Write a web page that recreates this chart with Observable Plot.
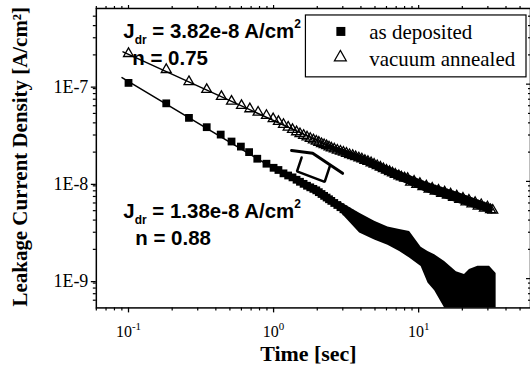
<!DOCTYPE html>
<html>
<head>
<meta charset="utf-8">
<script src="https://cdn.jsdelivr.net/npm/d3@7"></script>
<script src="https://cdn.jsdelivr.net/npm/@observablehq/plot@0.6"></script>
<style>
  html, body { margin: 0; padding: 0; background: #fff; overflow: hidden; width: 530px; height: 367px; }
  #chart { position: relative; width: 530px; height: 367px; overflow: hidden; }
</style>
</head>
<body>
<div id="chart"></div>
<script>
// ---------------- data ----------------
const seriesNames = ["as deposited", "vacuum annealed"];

// vacuum annealed (open triangles)
const annealedTime = [0.1, 0.182, 0.261, 0.346, 0.437, 0.513, 0.601, 0.686, 0.782, 0.893, 0.993,
  1.08, 1.17, 1.26, 1.35, 1.44, 1.52, 1.61, 1.70, 1.79, 1.88, 1.97, 2.05, 2.14, 2.23, 2.32, 2.41, 2.50,
  2.62, 2.75, 2.89, 3.03, 3.18, 3.34, 3.51, 3.68, 3.87, 4.06, 4.26, 4.47, 4.70, 4.93,
  5.18, 5.44, 5.71, 6.00, 6.30, 6.60, 6.90, 7.30, 7.60, 8.00, 8.40, 8.80, 9.30, 9.70,
  10.2, 10.7, 11.3, 11.8, 12.4, 13.0, 13.7, 14.4, 15.1, 15.8, 16.6, 17.4, 18.3,
  19.2, 20.2, 21.2, 22.2, 23.3, 24.5, 25.7, 27.0, 28.4, 29.8, 31.3, 32.4];
const annealedJ = [2.06e-7, 1.41e-7, 1.06e-7, 8.79e-8, 7.45e-8, 6.66e-8, 6.02e-8, 5.57e-8, 5.14e-8, 4.76e-8, 4.40e-8,
  4.12e-8, 3.85e-8, 3.61e-8, 3.41e-8, 3.23e-8, 3.09e-8, 2.97e-8, 2.86e-8, 2.76e-8, 2.67e-8, 2.59e-8, 2.52e-8, 2.44e-8, 2.38e-8, 2.32e-8, 2.26e-8, 2.20e-8,
  2.15e-8, 2.09e-8, 2.04e-8, 1.99e-8, 1.94e-8, 1.88e-8, 1.84e-8, 1.79e-8, 1.74e-8, 1.70e-8, 1.64e-8, 1.60e-8, 1.55e-8, 1.50e-8,
  1.45e-8, 1.40e-8, 1.35e-8, 1.30e-8, 1.26e-8, 1.22e-8, 1.18e-8, 1.14e-8, 1.11e-8, 1.08e-8, 1.07e-8, 0.98e-8, 1.0e-8, 9.3e-9,
  9.5e-9, 8.8e-9, 8.95e-9, 8.3e-9, 8.5e-9, 7.9e-9, 8.1e-9, 7.5e-9, 7.75e-9, 7.2e-9, 7.4e-9, 6.85e-9, 7.05e-9,
  6.5e-9, 6.7e-9, 6.15e-9, 6.4e-9, 5.85e-9, 6.05e-9, 5.55e-9, 5.75e-9, 5.3e-9, 5.45e-9, 5.1e-9, 5.05e-9];
// vacuum annealed - where the markers merge into a solid band: band edges
const annealedBandTime = [2.3, 3.0, 4.36, 6.64, 11.3, 19.1, 32.4];
const annealedBandHigh = [2.42e-8, 2.15e-8, 1.78e-8, 1.36e-8, 9.8e-9, 7.6e-9, 5.7e-9];
const annealedBandLow  = [2.22e-8, 1.85e-8, 1.45e-8, 1.08e-8, 7.7e-9, 5.9e-9, 4.6e-9];

// as deposited (filled squares) - resolved markers
const depositedTime = [0.1, 0.182, 0.261, 0.346, 0.432, 0.513, 0.595, 0.678, 0.772, 0.893, 1.0,
  1.08, 1.17, 1.26, 1.35, 1.44, 1.52, 1.61, 1.70, 1.79, 1.88, 1.97, 2.05, 2.14, 2.23, 2.32, 2.41, 2.50,
  2.62, 2.75, 2.89, 3.03, 3.18, 3.34, 3.51, 3.68, 3.87, 4.06];
const depositedJ = [1.03e-7, 6.35e-8, 4.50e-8, 3.61e-8, 3.03e-8, 2.57e-8, 2.28e-8, 2.00e-8, 1.71e-8, 1.52e-8, 1.38e-8,
  1.31e-8, 1.21e-8, 1.15e-8, 1.10e-8, 1.04e-8, 9.91e-9, 9.44e-9, 9.02e-9, 8.69e-9, 8.38e-9, 8.09e-9, 7.75e-9, 7.42e-9, 7.1e-9, 6.82e-9, 6.55e-9, 6.3e-9,
  6.0e-9, 5.72e-9, 5.43e-9, 5.17e-9, 4.92e-9, 4.68e-9, 4.44e-9, 4.22e-9, 4.0e-9, 3.82e-9];

// as deposited - noisy tail, read as the upper / lower edge of the scatter band
const tailTime = [2.9, 3.92, 4.97, 6.14, 7.39, 8.66, 10.4, 11.6, 12.9, 15.1, 18.2, 20.7, 22.4, 25.6, 30.8, 34.2];
const tailHigh = [6.1e-9, 4.7e-9, 3.9e-9, 3.4e-9, 3.2e-9, 3.05e-9, 2.1e-9, 1.9e-9, 1.76e-9, 1.5e-9, 1.18e-9, 1.1e-9, 1.24e-9, 1.34e-9, 1.34e-9, 1.13e-9];
const tailLow  = [4.8e-9, 2.95e-9, 2.5e-9, 2.2e-9, 1.9e-9, 1.63e-9, 1.33e-9, 9.0e-10, 7.5e-10, 5e-10, 5e-10, 5e-10, 5e-10, 5e-10, 5e-10, 5e-10];

// fitted lines J = Jdr * t^-n (end points as drawn)
const fitAnnealedTime = [0.0917, 3.0];
const fitAnnealedJ = [2.15e-7, 2.0e-8];
const fitDepositedTime = [0.0902, 3.0];
const fitDepositedJ = [1.17e-7, 5.1e-9];

// odd hand-drawn shape in the middle of the plot
const roofTime = [1.33, 1.86, 2.99];
const roofJ = [2.08e-8, 1.95e-8, 1.21e-8];
const boxTime = [1.56, 1.45, 2.25, 2.44];
const boxJ = [1.76e-8, 1.27e-8, 9.89e-9, 1.43e-8];

// annotations
const annTexts = ["J_{dr} = 3.82e-8 A/cm^{2}", "n = 0.75", "J_{dr} = 1.38e-8 A/cm^{2}", "n = 0.88"];
const annTime = [0.0921, 0.1062, 0.0921, 0.1114];
const annJ = [2.95e-7, 1.56e-7, 4.2e-9, 2.22e-9];

// axes
const xMajor = [0.1, 1, 10];
const xTickLabels = ["10^{-1}", "10^{0}", "10^{1}"];
const xMinor = [0.06, 0.07, 0.08, 0.09, 0.2, 0.3, 0.4, 0.5, 0.6, 0.7, 0.8, 0.9,
  2, 3, 4, 5, 6, 7, 8, 9, 20, 30, 40, 50];
const yMajor = [1e-9, 1e-8, 1e-7];
const yTickLabels = ["1E-9", "1E-8", "1E-7"];
const yMinor = [6e-10, 7e-10, 8e-10, 9e-10, 2e-9, 3e-9, 4e-9, 5e-9, 6e-9, 7e-9, 8e-9, 9e-9,
  2e-8, 3e-8, 4e-8, 5e-8, 6e-8, 7e-8, 8e-8, 9e-8, 2e-7, 3e-7, 4e-7, 5e-7];
const xTitle = "Time [sec]";
const yTitle = "Leakage Current Density [A/cm\u00B2]";

// ---------------- chart ----------------
const SERIF = "'Liberation Serif', 'Times New Roman', serif";
const SANS = "'Liberation Sans', Arial, sans-serif";
const blank = () => "";

const plot = Plot.plot({
  width: 531,
  height: 367,
  marginLeft: 96,
  marginRight: 0,
  marginTop: 8,
  marginBottom: 59,
  style: { background: "white", fontFamily: SERIF, color: "black", overflow: "visible" },
  x: { type: "log", domain: [0.06, 59] },
  y: { type: "log", domain: [5e-10, 6e-7] },
  marks: [
    Plot.line(fitDepositedJ, { x: fitDepositedTime, y: fitDepositedJ, stroke: "black", strokeWidth: 1.5 }),
    Plot.line(fitAnnealedJ, { x: fitAnnealedTime, y: fitAnnealedJ, stroke: "black", strokeWidth: 1.5 }),
    Plot.areaY(tailTime, { x: tailTime, y1: tailLow, y2: tailHigh, fill: "black" }),
    Plot.dot(depositedJ, { x: depositedTime, y: depositedJ, symbol: "square", r: 4.4, fill: "black", stroke: "none" }),
    Plot.areaY(annealedBandTime, { x: annealedBandTime, y1: annealedBandLow, y2: annealedBandHigh, fill: "black" }),
    Plot.dot(annealedJ, { x: annealedTime, y: annealedJ, symbol: "triangle", r: 3.7, fill: "none", stroke: "black", strokeWidth: 1.3 }),
    Plot.line(roofJ, { x: roofTime, y: roofJ, stroke: "black", strokeWidth: 3, strokeLinejoin: "miter" }),
    Plot.line(boxJ, { x: boxTime, y: boxJ, stroke: "black", strokeWidth: 2.5, strokeLinejoin: "miter" }),
    Plot.text(annTexts, { x: annTime, y: annJ, text: annTexts, textAnchor: "start", lineAnchor: "bottom",
      fontFamily: SANS, fontWeight: "bold", fontSize: 20.5, fill: "black" }),
    Plot.frame({ stroke: "black", strokeWidth: 1.5 }),
    Plot.axisX({ anchor: "bottom", ticks: xMajor, tickSize: 5, tickPadding: 13, fontSize: 16,
      tickFormat: (d, i) => xTickLabels[xMajor.indexOf(d)], label: null, strokeWidth: 1.3 }),
    Plot.axisX({ anchor: "bottom", ticks: xMinor, tickSize: 3, tickFormat: blank, label: null, strokeWidth: 1.2 }),
    Plot.axisX({ anchor: "top", ticks: xMajor, tickSize: 4, tickFormat: blank, label: null, strokeWidth: 1.2 }),
    Plot.axisX({ anchor: "top", ticks: xMinor, tickSize: 3, tickFormat: blank, label: null, strokeWidth: 1.2 }),
    Plot.axisY({ anchor: "left", ticks: yMajor, tickSize: 5, tickPadding: 3, fontSize: 18, dy: 3,
      tickFormat: d => yTickLabels[yMajor.indexOf(d)], label: null, strokeWidth: 1.3 }),
    Plot.axisY({ anchor: "left", ticks: yMinor, tickSize: 3, tickFormat: blank, label: null, strokeWidth: 1.2 }),
    Plot.axisY({ anchor: "right", ticks: yMajor, tickSize: -5, tickFormat: blank, label: null, strokeWidth: 1.2 }),
    Plot.axisY({ anchor: "right", ticks: yMinor, tickSize: -3, tickFormat: blank, label: null, strokeWidth: 1.2 })
  ]
});

document.getElementById("chart").appendChild(plot);

// rich text: _{sub} and ^{sup}
const SVGNS = "http://www.w3.org/2000/svg";
function richify(el, o) {
  const s = el.textContent;
  if (!/[_^]\{/.test(s)) return;
  const parts = s.split(/([_^]\{[^}]*\})/).filter(p => p !== "");
  while (el.firstChild) el.removeChild(el.firstChild);
  let offset = 0;
  for (const p of parts) {
    const ts = document.createElementNS(SVGNS, "tspan");
    let target = 0, txt = p;
    if (p.startsWith("_{")) { target = o.subDy; txt = p.slice(2, -1); ts.setAttribute("font-size", o.subSize); }
    else if (p.startsWith("^{")) { target = -o.supDy; txt = p.slice(2, -1); ts.setAttribute("font-size", o.supSize); }
    ts.setAttribute("dy", target - offset);
    offset = target;
    ts.textContent = txt;
    el.appendChild(ts);
  }
}
plot.querySelectorAll("text").forEach(el => {
  const s = el.textContent;
  if (s.startsWith("10^")) richify(el, { supDy: 7, supSize: 11 });
  else richify(el, { subDy: 6, subSize: 12, supDy: 10, supSize: 12 });
});

// titles and legend
const svg = d3.select(plot);
svg.append("text")
  .attr("x", 309).attr("y", 362)
  .attr("text-anchor", "middle")
  .style("font-family", SERIF).style("font-weight", "bold").style("font-size", "22px")
  .text(xTitle);
svg.append("text")
  .attr("transform", "translate(27,157) rotate(-90)")
  .attr("text-anchor", "middle")
  .style("font-family", SERIF).style("font-weight", "bold").style("font-size", "21px")
  .text(yTitle);

const lg = svg.append("g").attr("text-anchor", "start");
lg.append("rect").attr("x", 306).attr("y", 15).attr("width", 221).attr("height", 62)
  .attr("fill", "white").attr("stroke", "black").attr("stroke-width", 1.2);
lg.append("rect").attr("x", 337).attr("y", 27).attr("width", 9).attr("height", 9).attr("fill", "black");
lg.append("path").attr("d", "M341,50.5L347,61L335,61Z").attr("fill", "white").attr("stroke", "black").attr("stroke-width", 1.2);
lg.append("text").attr("x", 370).attr("y", 39.5).attr("text-anchor", "start")
  .style("font-family", SERIF).style("font-size", "21px").text(seriesNames[0]);
lg.append("text").attr("x", 370).attr("y", 66).attr("text-anchor", "start")
  .style("font-family", SERIF).style("font-size", "21px").text(seriesNames[1]);
</script>
</body>
</html>
